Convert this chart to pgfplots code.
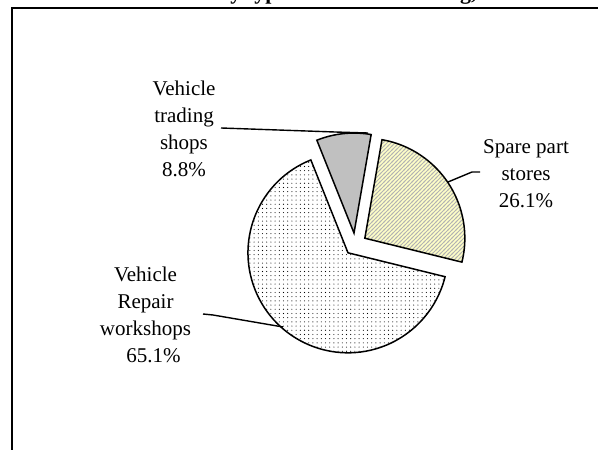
\documentclass[border=0pt]{standalone}
\usepackage{fontspec}
\setmainfont{Liberation Serif}
\usepackage{pgfplots}
\pgfplotsset{compat=1.18}
\usepackage{pgfplotstable}
\usetikzlibrary{patterns}

\pgfdeclarepatternformonly{smalldots}{\pgfpoint{-0.5pt}{-0.5pt}}{\pgfpoint{4.7pt}{4.7pt}}{\pgfpoint{4.2pt}{4.2pt}}{\pgfpathcircle{\pgfpoint{2.1pt}{2.1pt}}{0.55pt}\pgfusepath{fill}}
\pgfdeclarepatternformonly{diagstripes}{\pgfpoint{-1pt}{-1pt}}{\pgfpoint{5pt}{5pt}}{\pgfpoint{4pt}{4pt}}{\pgfsetlinewidth{0.9pt}\pgfpathmoveto{\pgfpoint{-1pt}{-1pt}}\pgfpathlineto{\pgfpoint{5pt}{5pt}}\pgfusepath{stroke}}

\definecolor{tradegray}{HTML}{C0C0C0}
\definecolor{spareyellow}{HTML}{FFFFC8}
\definecolor{stripegray}{HTML}{B2B2B2}

% shares (%): trading shops, spare part stores, repair workshops
\pgfplotstableread{
share
8.8
26.1
65.1
}\piedata
\pgfplotstablegetelem{0}{share}\of\piedata \let\sT\pgfplotsretval
\pgfplotstablegetelem{1}{share}\of\piedata \let\sS\pgfplotsretval
\pgfplotstablegetelem{2}{share}\of\piedata \let\sR\pgfplotsretval

\pgfmathsetmacro{\aA}{111.8}
\pgfmathsetmacro{\aB}{\aA-3.6*\sT}
\pgfmathsetmacro{\aC}{\aB-3.6*\sS}
\pgfmathsetmacro{\aD}{\aC-3.6*\sR}
\def\Ox{355.2}
\def\Oy{205.5}
\def\R{100}
\pgfmathsetmacro{\Tx}{\Ox+11.5*cos((\aA+\aB)/2)}
\pgfmathsetmacro{\Ty}{\Oy+11.5*sin((\aA+\aB)/2)}
\pgfmathsetmacro{\Sx}{\Ox+11.5*cos((\aB+\aC)/2)}
\pgfmathsetmacro{\Sy}{\Oy+11.5*sin((\aB+\aC)/2)}
\pgfmathsetmacro{\Rx}{\Ox+11*cos((\aC+\aD)/2)}
\pgfmathsetmacro{\Ry}{\Oy+11*sin((\aC+\aD)/2)}

\begin{document}
\begin{tikzpicture}
\begin{axis}[
  at={(0,0)}, anchor=south west,
  x=1pt, y=1pt, xmin=0, xmax=598, ymin=0, ymax=450,
  hide axis, clip=true,
]
% frame
\draw[line width=1.6pt] (12.2,-10) -- (12.2,441.7) -- (610,441.7);
% title (cut by the top edge, as in the reference)
\node[anchor=base, font=\bfseries\fontsize{22}{26}\selectfont] at (axis cs:298,450.8) {Establishments by type of vehicle servicing, 2010};

% Repair workshops
\path[fill=white, postaction={pattern=smalldots, pattern color=black}]
  (axis cs:\Rx,\Ry) -- ++(\aD:\R pt) arc[start angle=\aD, end angle=\aC, radius=\R pt] -- cycle;
\draw[line width=1.5pt, line join=miter]
  (axis cs:\Rx,\Ry) -- ++(\aD:\R pt) arc[start angle=\aD, end angle=\aC, radius=\R pt] -- cycle;
% Spare part stores
\path[fill=spareyellow, postaction={pattern=diagstripes, pattern color=stripegray}]
  (axis cs:\Sx,\Sy) -- ++(\aC:\R pt) arc[start angle=\aC, end angle=\aB, radius=\R pt] -- cycle;
\draw[line width=1.5pt, line join=miter]
  (axis cs:\Sx,\Sy) -- ++(\aC:\R pt) arc[start angle=\aC, end angle=\aB, radius=\R pt] -- cycle;
% Vehicle trading shops
\filldraw[fill=tradegray, line width=1.5pt, line join=miter]
  (axis cs:\Tx,\Ty) -- ++(\aB:\R pt) arc[start angle=\aB, end angle=\aA, radius=\R pt] -- cycle;

% leader lines
\draw[line width=1.4pt] (axis cs:221,322) -- (axis cs:335,318) -- (axis cs:368,317);
\draw[line width=1.4pt] (axis cs:480,278) -- (axis cs:472,278) -- (axis cs:448,268);
\draw[line width=1.4pt] (axis cs:203,136) -- (axis cs:213,135) -- (axis cs:283,123);

% labels
\node[align=center, font=\fontsize{21}{27}\selectfont] at (axis cs:184,321) {Vehicle\\trading\\shops\\8.8\%};
\node[align=center, font=\fontsize{21}{27}\selectfont] at (axis cs:526,276) {Spare part\\stores\\26.1\%};
\node[align=center, font=\fontsize{21}{27}\selectfont] at (axis cs:145.5,135.5) {Vehicle\\Repair\\workshops\\\hspace*{16pt}65.1\%};
\end{axis}
\pgfresetboundingbox
\path[use as bounding box] (0,0) rectangle (598pt,450pt);
\end{tikzpicture}
\end{document}
